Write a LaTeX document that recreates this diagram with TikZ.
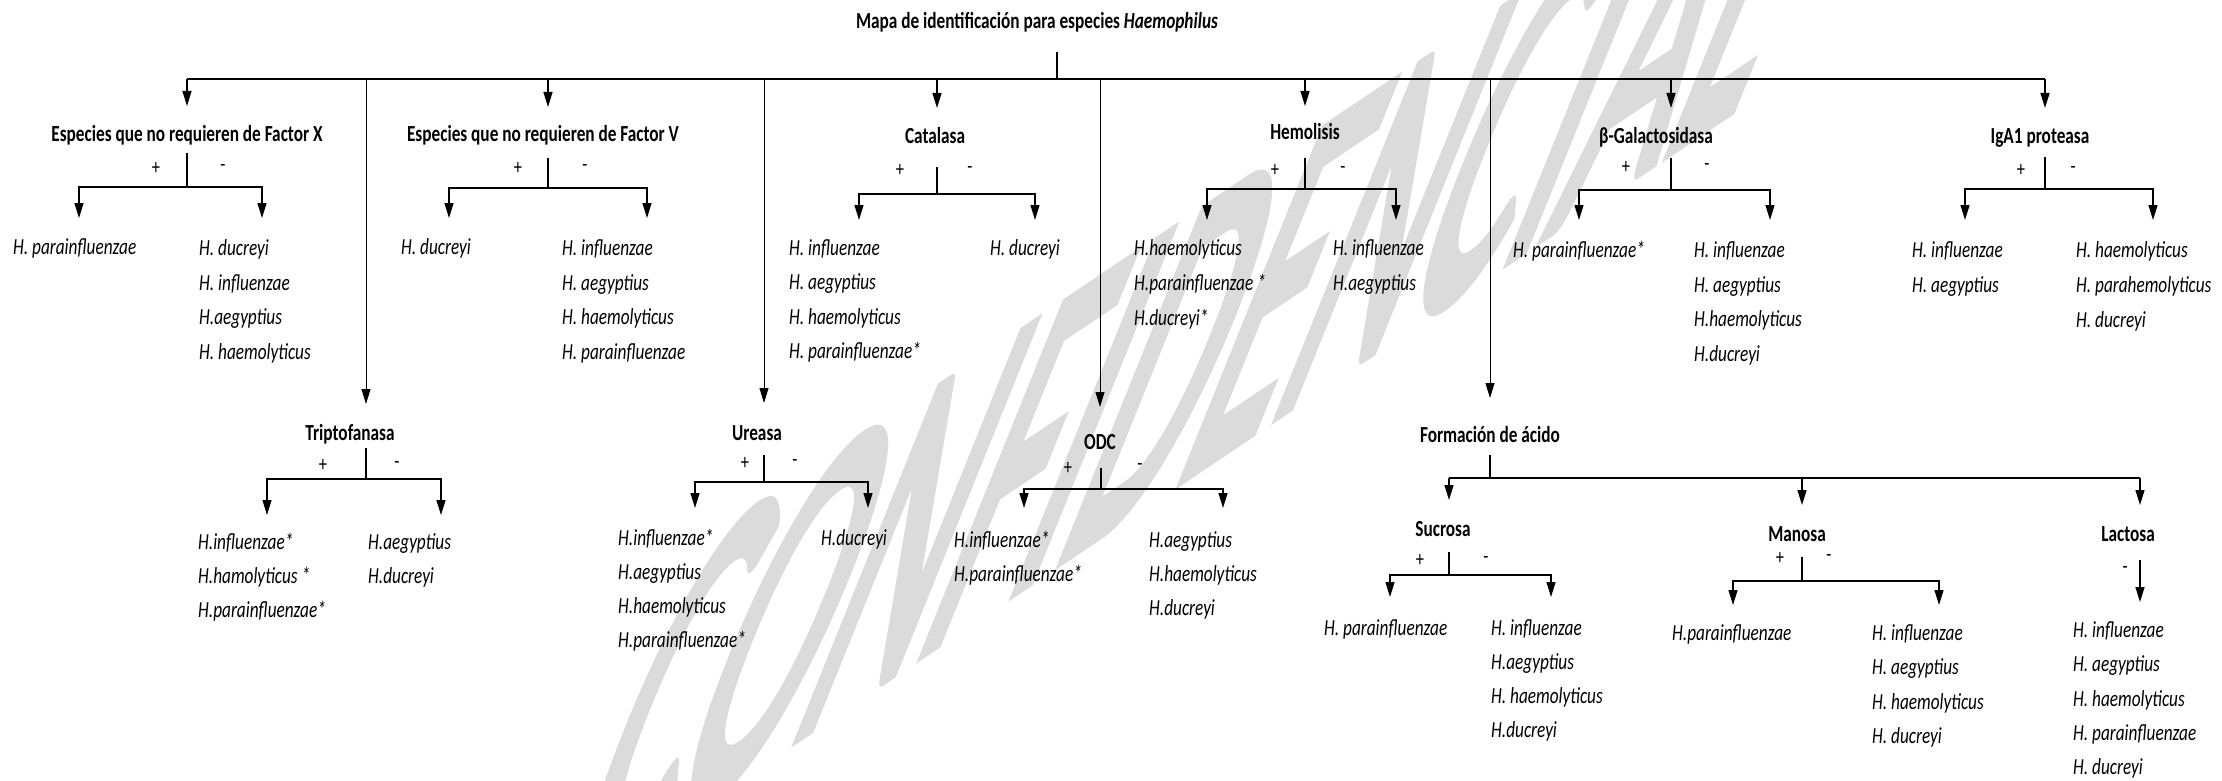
\documentclass[tikz,border=0pt]{standalone}
\usepackage{fontspec}
\setmainfont{Carlito}[FakeStretch=0.75]
\newfontfamily\wmfont{Carlito}[FakeBold=3.5]
\usetikzlibrary{arrows.meta}
\newcommand{\leaves}[5]{%
  \foreach \t [count=\i from 0] in {#5}
    \node[leaf] (#1\i) at (#2,#3+7.5+\i*#4) {\t};}
\newcommand{\testbranch}[7]{% name, stem x, stem top y, bar y, left x, right x, tip y
  \coordinate (#1s) at (#2,#3);
  \coordinate (#1b) at (#2,#4);
  \coordinate (#1l) at (#5,#7);
  \coordinate (#1r) at (#6,#7);
  \draw[ln] (#1s) -- (#1b);
  \draw[arr] (#1b) -| (#1l);
  \draw[arr] (#1b) -| (#1r);}
\newcommand{\drop}[5]{% name, x, top y, tip y, style
  \coordinate (#1t) at (#2,#3);
  \coordinate (#1a) at (#2,#4);
  \draw[#5] (#1t) -- (#1a);}
\begin{document}
\begin{tikzpicture}[x=1pt,y=-1pt,
  ln/.style={line width=1.3pt,black},
  thinln/.style={line width=0.9pt,black},
  arr/.style={ln,-{Triangle[length=15pt,width=9pt]}},
  tarr/.style={thinln,-{Triangle[length=15pt,width=9pt]}},
  head/.style={font=\fontsize{23}{27}\selectfont\bfseries,inner sep=0pt,anchor=base},
  leaf/.style={font=\fontsize{23}{27}\selectfont\itshape,inner sep=0pt,anchor=base west},
  sgn/.style={font=\fontsize{22}{26}\selectfont,inner sep=0pt,anchor=center},
  wm/.style={font=\wmfont\fontsize{100}{110}\selectfont,text=black!14,inner sep=0pt}]
\fill[white] (0,0) rectangle (2222,781);
\useasboundingbox (0,0) rectangle (2222,781);
\clip (0,0) rectangle (2222,781);
% watermark
\begin{scope}[shift={(1215,330)}]
  \node[wm,cm={1.95,1.31,2.17,5.38,(0,0)},transform shape] (wmark) at (0,0) {CONFIDENCIAL};
\end{scope}
% title and main bar
\node[head] (title) at (1037,29) {Mapa de identificación para especies \textit{Haemophilus}};
\coordinate (ttls) at (1057,52);
\coordinate (hub) at (1057,79);
\coordinate (barL) at (187,79);
\coordinate (barR) at (2045,79);
\draw[ln] (ttls) -- (hub);
\draw[ln] (barL) -- (barR);
% drops from main bar
\drop{dfx}{187}{79}{106}{arr}
\drop{dtr}{366}{80}{404}{tarr}
\drop{dfv}{548}{79}{107}{arr}
\drop{dur}{764}{80}{403}{tarr}
\drop{dca}{937}{79}{108}{arr}
\drop{dod}{1100}{80}{407}{tarr}
\drop{dhe}{1305}{79}{106}{arr}
\drop{dfa}{1490}{80}{398}{tarr}
\drop{dbg}{1671}{79}{108}{arr}
\drop{dig}{2045}{79}{108}{arr}
% headings
\node[head] (fx) at (187,142) {Especies que no requieren de Factor X};
\node[head] (fv) at (543,142) {Especies que no requieren de Factor V};
\node[head] (ca) at (935,144) {Catalasa};
\node[head] (he) at (1305,140) {Hemolisis};
\node[head] (bg) at (1656,144) {β-Galactosidasa};
\node[head] (ig) at (2040,144) {IgA1 proteasa};
\node[head] (tr) at (350,440) {Triptofanasa};
\node[head] (ur) at (757,440) {Ureasa};
\node[head] (od) at (1100,449) {ODC};
\node[head] (fa) at (1490,442) {Formación de ácido};
\node[head] (su) at (1443,536) {Sucrosa};
\node[head] (ma) at (1797,541) {Manosa};
\node[head] (la) at (2128,541) {Lactosa};
% branches
\testbranch{fx}{187}{153}{187}{79}{262}{218}
\testbranch{fv}{548}{158}{188}{449}{647}{218}
\testbranch{ca}{937}{167}{194}{859}{1035}{220}
\testbranch{he}{1305}{158}{189}{1207}{1396}{220}
\testbranch{bg}{1671}{158}{190}{1579}{1770}{220}
\testbranch{ig}{2045}{157}{189}{1965}{2153}{220}
\testbranch{tr}{366}{448}{479}{267}{441}{515}
\testbranch{ur}{764}{455}{482}{695}{868}{508}
\testbranch{od}{1101}{468}{489}{1024}{1223}{508}
\testbranch{su}{1449}{552}{575}{1390}{1551}{597}
\testbranch{ma}{1802}{557}{581}{1733}{1939}{605}
% acid formation bar
\coordinate (fas) at (1490,455);
\coordinate (fab) at (1490,478);
\coordinate (faL) at (1449,478);
\coordinate (faR) at (2140,478);
\draw[ln] (fas) -- (fab);
\draw[ln] (faL) -- (faR);
\drop{dsu}{1449}{478}{500}{arr}
\drop{dma}{1802}{478}{505}{arr}
\drop{dla}{2140}{478}{505}{arr}
\drop{lat}{2140}{560}{602}{arr}
% signs
\node[sgn] (fxp) at (156,168) {+}; \node[sgn] (fxm) at (223,168) {-};
\node[sgn] (fvp) at (518,168) {+}; \node[sgn] (fvm) at (585,168) {-};
\node[sgn] (cap) at (900,170) {+}; \node[sgn] (cam) at (970,170) {-};
\node[sgn] (hep) at (1275,170) {+}; \node[sgn] (hem) at (1343,170) {-};
\node[sgn] (bgp) at (1626,167) {+}; \node[sgn] (bgm) at (1707,167) {-};
\node[sgn] (igp) at (2021,170) {+}; \node[sgn] (igm) at (2073,170) {-};
\node[sgn] (trp) at (323,465) {+}; \node[sgn] (trm) at (397,465) {-};
\node[sgn] (urp) at (745,463) {+}; \node[sgn] (urm) at (795,463) {-};
\node[sgn] (odp) at (1068,468) {+}; \node[sgn] (odm) at (1140,467) {-};
\node[sgn] (sup) at (1420,560) {+}; \node[sgn] (sum) at (1486,560) {-};
\node[sgn] (map) at (1780,558) {+}; \node[sgn] (mam) at (1829,558) {-};
\node[sgn] (lam) at (2125,570) {-};
% leaves
\leaves{fxL}{13}{247}{34.7}{H. parainfluenzae}
\leaves{fxR}{199}{248}{34.7}{H. ducreyi,H. influenzae,H.aegyptius,H. haemolyticus}
\leaves{fvL}{401}{247}{34.7}{H. ducreyi}
\leaves{fvR}{562}{248}{34.7}{H. influenzae,H. aegyptius,H. haemolyticus,H. parainfluenzae}
\leaves{caL}{789}{248}{34.4}{H. influenzae,H. aegyptius,H. haemolyticus,H. parainfluenzae*}
\leaves{caR}{990}{248}{34.4}{H. ducreyi}
\leaves{heL}{1134}{248}{34.8}{H.haemolyticus,H.parainfluenzae *,H.ducreyi*}
\leaves{heR}{1333}{248}{34.8}{H. influenzae,H.aegyptius}
\leaves{bgL}{1513}{250}{34.5}{H. parainfluenzae*}
\leaves{bgR}{1694}{250}{34.5}{H. influenzae,H. aegyptius,H.haemolyticus,H.ducreyi}
\leaves{igL}{1912}{250}{34.8}{H. influenzae,H. aegyptius}
\leaves{igR}{2076}{250}{34.8}{H. haemolyticus,H. parahemolyticus,H. ducreyi}
\leaves{trL}{198}{542}{34}{H.influenzae*,H.hamolyticus *,H.parainfluenzae*}
\leaves{trR}{368}{542}{34}{H.aegyptius,H.ducreyi}
\leaves{urL}{618}{538}{34}{H.influenzae*,H.aegyptius,H.haemolyticus,H.parainfluenzae*}
\leaves{urR}{821}{538}{34}{H.ducreyi}
\leaves{odL}{954}{540}{34}{H.influenzae*,H.parainfluenzae*}
\leaves{odR}{1149}{540}{34}{H.aegyptius,H.haemolyticus,H.ducreyi}
\leaves{suL}{1324}{628}{34}{H. parainfluenzae}
\leaves{suR}{1491}{628}{34}{H. influenzae,H.aegyptius,H. haemolyticus,H.ducreyi}
\leaves{maL}{1672}{633}{34.3}{H.parainfluenzae}
\leaves{maR}{1872}{633}{34.3}{H. influenzae,H. aegyptius,H. haemolyticus,H. ducreyi}
\leaves{laL}{2073}{630}{34.3}{H. influenzae,H. aegyptius,H. haemolyticus,H. parainfluenzae,H. ducreyi}
\end{tikzpicture}
\end{document}
